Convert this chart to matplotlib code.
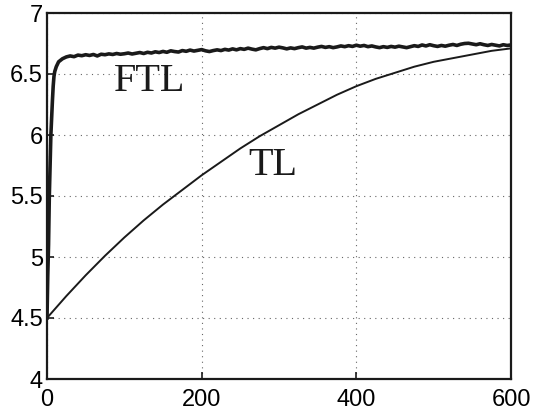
import numpy as np
import matplotlib
matplotlib.use("Agg")
import matplotlib.pyplot as plt

# TL curve, every 25 units
tl_x = [0, 25, 50, 75, 100, 125, 150, 175, 200, 225, 250, 275, 300,
        325, 350, 375, 400, 425, 450, 475, 500, 525, 550, 575, 600]
tl_y = [4.50, 4.68, 4.85, 5.01, 5.16, 5.30, 5.43, 5.55, 5.67, 5.78, 5.89, 5.99, 6.08,
        6.17, 6.25, 6.33, 6.40, 6.46, 6.51, 6.56, 6.60, 6.63, 6.66, 6.69, 6.71]

# FTL curve: fast rise at the start, then a noisy plateau (step 5 after x=20)
ftl_x_start = [0, 1, 2, 3, 4, 5, 6, 7, 8, 9, 10, 12, 15, 18]
ftl_y_start = [4.50, 4.85, 5.10, 5.50, 5.75, 6.00, 6.15, 6.28, 6.40, 6.48, 6.52, 6.56, 6.60, 6.615]
ftl_x_rest = list(range(20, 601, 5))
ftl_y_rest = [
    6.625, 6.640, 6.648, 6.642, 6.655, 6.650, 6.658, 6.652, 6.660, 6.648,
    6.662, 6.658, 6.665, 6.660, 6.668, 6.662, 6.666, 6.672, 6.664, 6.670,
    6.676, 6.668, 6.678, 6.672, 6.682, 6.676, 6.685, 6.678, 6.690, 6.684,
    6.680, 6.692, 6.686, 6.696, 6.688, 6.694, 6.700, 6.690, 6.684, 6.692,
    6.698, 6.692, 6.702, 6.696, 6.706, 6.698, 6.708, 6.702, 6.712, 6.704,
    6.698, 6.708, 6.716, 6.708, 6.718, 6.712, 6.720, 6.714, 6.706, 6.714,
    6.708, 6.716, 6.722, 6.712, 6.718, 6.712, 6.720, 6.726, 6.718, 6.724,
    6.716, 6.722, 6.730, 6.724, 6.732, 6.726, 6.736, 6.728, 6.734, 6.724,
    6.730, 6.722, 6.716, 6.724, 6.718, 6.726, 6.720, 6.728, 6.722, 6.716,
    6.724, 6.732, 6.726, 6.738, 6.730, 6.740, 6.732, 6.726, 6.734, 6.728,
    6.736, 6.742, 6.734, 6.744, 6.750, 6.752, 6.746, 6.740, 6.748, 6.740,
    6.734, 6.742, 6.736, 6.730, 6.740, 6.734, 6.738,
]
ftl_x = ftl_x_start + ftl_x_rest
ftl_y = ftl_y_start + ftl_y_rest

x_ticks = [0, 200, 400, 600]
y_ticks = [4, 4.5, 5, 5.5, 6, 6.5, 7]
y_tick_labels = ["4", "4.5", "5", "5.5", "6", "6.5", "7"]

plt.rcParams["font.family"] = ["Liberation Sans", "DejaVu Sans"]

fig = plt.figure(figsize=(5.34, 4.13), dpi=100)
ax = fig.add_axes([47 / 534, 1 - 379 / 413, 464 / 534, 366 / 413])

ax.plot(tl_x, tl_y, color="#1a1a1a", linewidth=1.4)
ax.plot(ftl_x, ftl_y, color="#1a1a1a", linewidth=2.6)

ax.set_xlim(0, 600)
ax.set_ylim(4, 7)
ax.set_xticks(x_ticks)
ax.set_yticks(y_ticks)
ax.set_yticklabels(y_tick_labels)
ax.grid(True, color="#666666", linestyle=(0, (1, 4)), linewidth=0.8)
ax.tick_params(direction="in", length=5, width=1.2, labelsize=17, color="#1a1a1a")
ax.tick_params(axis="x", pad=7)
ax.tick_params(axis="y", pad=3)
for s in ax.spines.values():
    s.set_linewidth(1.6)
    s.set_color("#1a1a1a")

ax.text(86, 6.36, "FTL", family="Liberation Serif", fontsize=29, color="#1a1a1a")
ax.text(260, 5.672, "TL", family="Liberation Serif", fontsize=29, color="#1a1a1a")

fig.savefig("out.png", dpi=100)
